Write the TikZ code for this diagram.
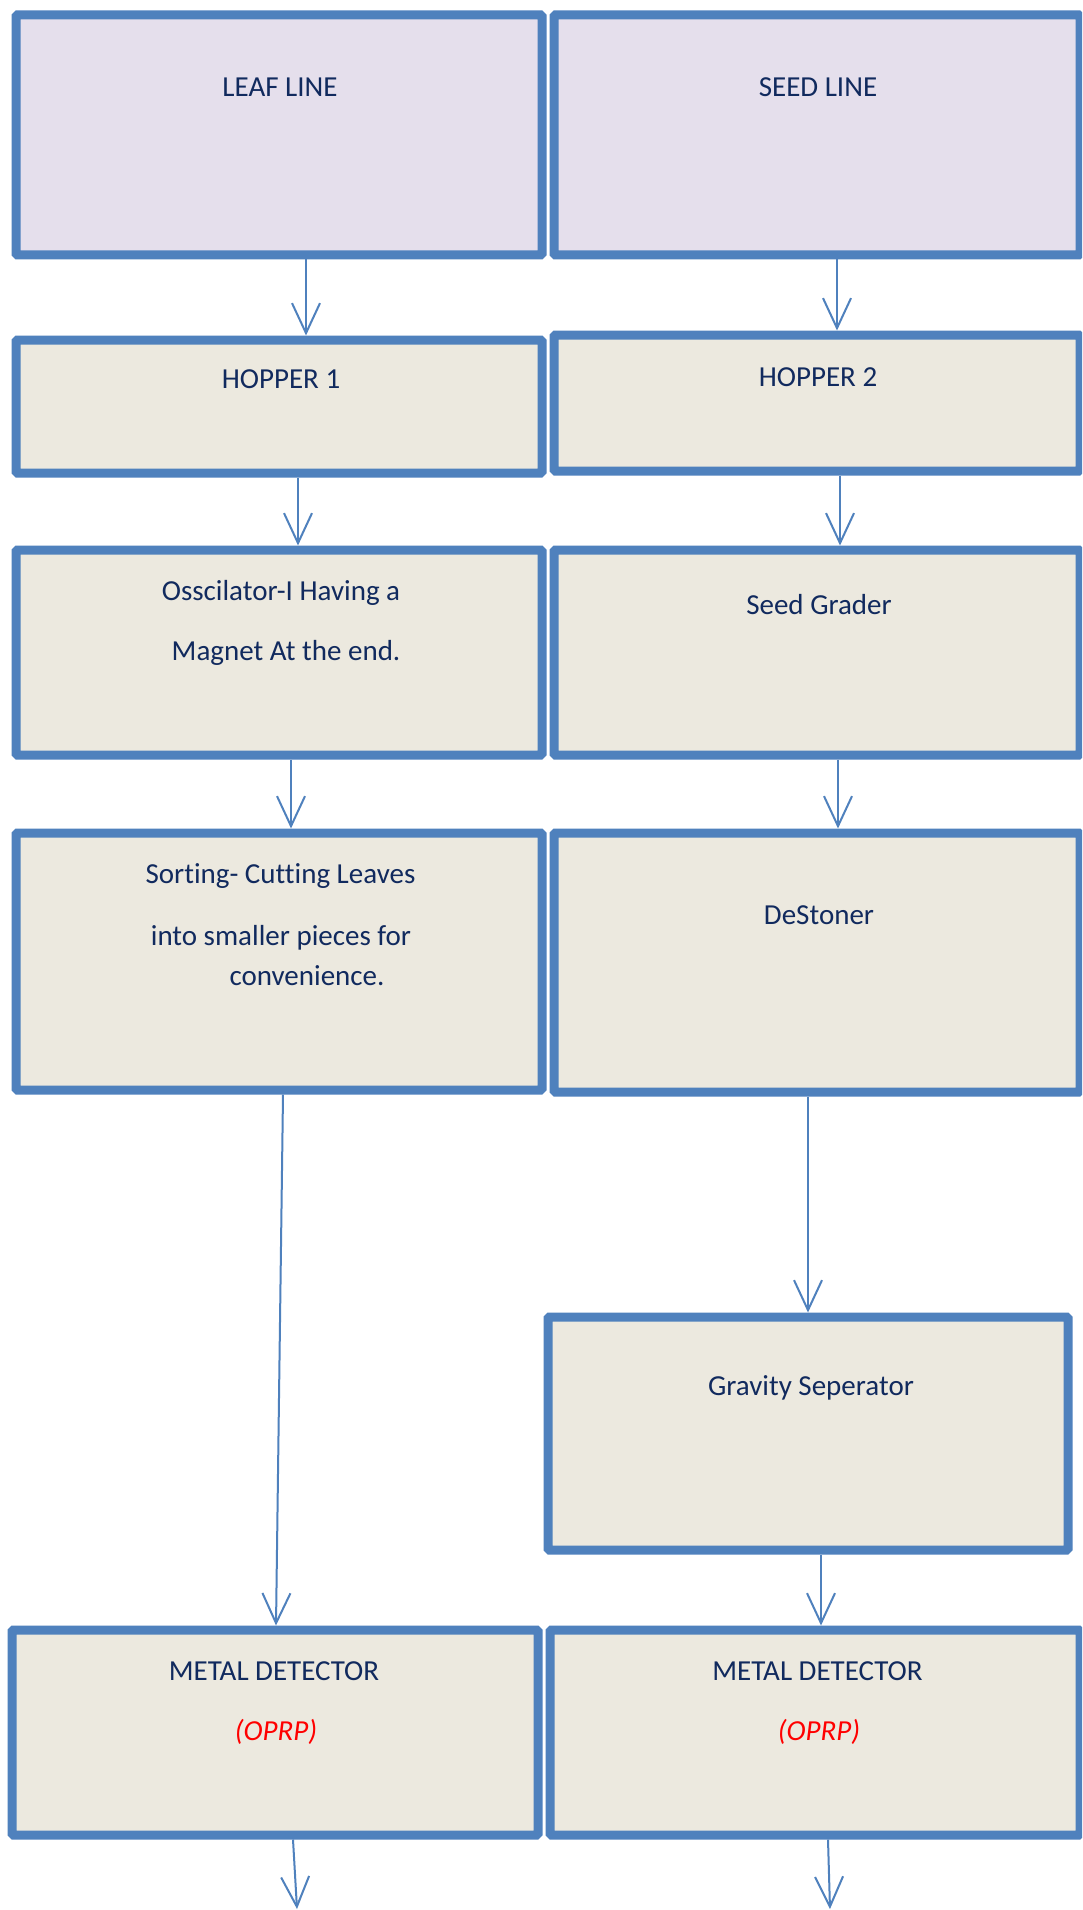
\documentclass[tikz,border=0pt]{standalone}
\usepackage{fontspec}
\setmainfont{Carlito}[Ligatures=NoCommon]
\usetikzlibrary{arrows.meta}

\definecolor{edgeblue}{HTML}{4F81BD}
\definecolor{lineshade}{HTML}{E5DFEC}
\definecolor{stepshade}{HTML}{ECE9DF}
\definecolor{inktext}{HTML}{112A5E}
\definecolor{flagred}{HTML}{FF0000}

\begin{document}
\begin{tikzpicture}[x=1pt, y=-1pt,
  framebox/.style={rectangle, draw=edgeblue, line width=9pt, rounded corners=1.5pt,
                   inner sep=0pt, minimum width=526pt},
  headbox/.style={framebox, fill=lineshade},
  stagebox/.style={framebox, fill=stepshade},
  txt/.style={anchor=base, inner sep=0pt, text=inktext,
              font=\fontsize{29}{35}\selectfont},
  flag/.style={txt, text=flagred, font=\fontsize{29}{35}\selectfont\itshape},
  arr/.style={draw=edgeblue, line width=2pt,
              -{Straight Barb[length=30pt, width=28pt]}}
]
% page
\fill[white] (0,0) rectangle (1082,1910);
\clip (0,0) rectangle (1082,1910);

% the two process lines
\node[headbox, minimum height=240pt] (leaf) at (279,135) {};
\node[headbox, minimum height=240pt] (seed) at (817,135) {};

% leaf line stages
\node[stagebox, minimum height=133pt] (hop1) at (279,406.5) {};
\node[stagebox, minimum height=205pt] (osc)  at (279,652.5) {};
\node[stagebox, minimum height=257pt] (sort) at (279,961.5) {};
\node[stagebox, minimum height=205pt] (md1)  at (275,1732.5) {};

% seed line stages
\node[stagebox, minimum height=136pt] (hop2) at (817,403) {};
\node[stagebox, minimum height=205pt] (sg)   at (817,652.5) {};
\node[stagebox, minimum height=259pt] (dest) at (817,962.5) {};
\node[stagebox, minimum width=520pt, minimum height=233pt] (grav) at (808,1433.5) {};
\node[stagebox, minimum width=530pt, minimum height=205pt] (md2)  at (815,1732.5) {};

% labels
\node[txt] (leafT) at (280,97) {LEAF LINE};
\node[txt] (seedT) at (818,97) {SEED LINE};
\node[txt] (hop1T) at (281,388) {HOPPER 1};
\node[txt] (hop2T) at (818,386) {HOPPER 2};
\node[txt] (oscA) at (281,600) {Osscilator-I Having a};
\node[txt] (oscB) at (286,660) {Magnet At the end.};
\node[txt] (sgT) at (819,614) {Seed Grader};
\node[txt] (sortA) at (280.5,883) {Sorting- Cutting Leaves};
\node[txt] (sortB) at (281,945) {into smaller pieces for};
\node[txt] (sortC) at (307,985) {convenience.};
\node[txt] (destT) at (819,924) {DeStoner};
\node[txt] (gravT) at (811,1395) {Gravity Seperator};
\node[txt] (md1T) at (274,1680) {METAL DETECTOR};
\node[flag] (md1F) at (276,1740) {(OPRP)};
\node[txt] (md2T) at (817.5,1680) {METAL DETECTOR};
\node[flag] (md2F) at (819,1740) {(OPRP)};

% free ends of the outgoing arrows
\coordinate (out1) at (297,1909);
\coordinate (out2) at (830,1909);

% connectors, leaf line
\draw[arr] ([xshift=27pt]leaf.south) -- ([xshift=27pt]leaf.south |- hop1.north);
\draw[arr] ([xshift=19pt]hop1.south) -- ([xshift=19pt]hop1.south |- osc.north);
\draw[arr] ([xshift=12pt]osc.south) -- ([xshift=12pt]osc.south |- sort.north);
\draw[arr] ([xshift=4pt]sort.south) -- ([xshift=1pt]md1.north);
\draw[arr] ([xshift=18pt]md1.south) -- (out1);

% connectors, seed line
\draw[arr] ([xshift=20pt]seed.south) -- ([xshift=20pt]seed.south |- hop2.north);
\draw[arr] ([xshift=23pt]hop2.south) -- ([xshift=23pt]hop2.south |- sg.north);
\draw[arr] ([xshift=21pt]sg.south) -- ([xshift=21pt]sg.south |- dest.north);
\draw[arr] ([xshift=-9pt]dest.south) -- (grav.north);
\draw[arr] ([xshift=13pt]grav.south) -- ([xshift=6pt]md2.north);
\draw[arr] ([xshift=13pt]md2.south) -- (out2);
\end{tikzpicture}
\end{document}
